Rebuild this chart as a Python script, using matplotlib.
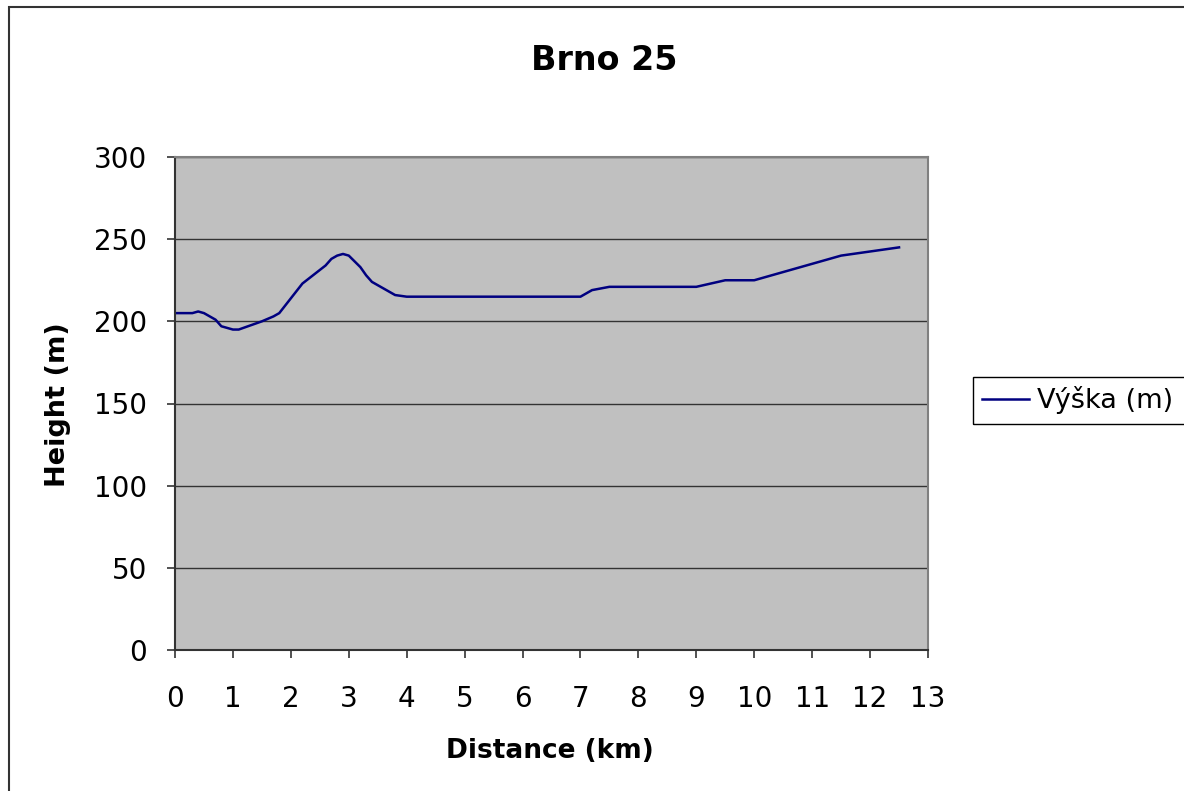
import matplotlib.pyplot as plt
import matplotlib.patches as patches

# distance (km) and height (m)
distance = [0, 0.3, 0.4, 0.5, 0.7, 0.8, 0.9, 1.0, 1.1, 1.5, 1.7, 1.8, 2.2, 2.6, 2.7,
            2.8, 2.9, 3.0, 3.2, 3.3, 3.4, 3.6, 3.8, 4.0, 4.5, 5.0, 5.5, 6.0, 6.5,
            7.0, 7.1, 7.2, 7.5, 8.0, 8.5, 9.0, 9.5, 10.0, 10.5, 11.0, 11.5, 12.0, 12.5]
height = [205, 205, 206, 205, 201, 197, 196, 195, 195, 200, 203, 205, 223, 234, 238,
          240, 241, 240, 233, 228, 224, 220, 216, 215, 215, 215, 215, 215, 215,
          215, 217, 219, 221, 221, 221, 221, 225, 225, 230, 235, 240, 242.5, 245]
series_name = 'Výška (m)'
title = 'Brno 25'
xticks = list(range(0, 14))
yticks = list(range(0, 301, 50))

plt.rcParams['font.family'] = ['DejaVu Sans']

fig = plt.figure(figsize=(11.84, 7.91), dpi=100)
W, H = 1184, 791

# outer chart border (left and top visible, rest runs off the image)
fig.patches.append(patches.Rectangle((9 / W, -0.1), 1.2, 1 - 7 / H + 0.1,
                                     transform=fig.transFigure, fill=False,
                                     edgecolor='#333333', linewidth=1.5))

ax = fig.add_axes([175 / W, (H - 650) / H, 753 / W, 493 / H])
ax.set_facecolor('#C0C0C0')
ax.plot(distance, height, color='#000080', linewidth=1.8, label=series_name)

ax.set_xlim(0, 13)
ax.set_ylim(0, 300)
ax.set_xticks(xticks)
ax.set_yticks(yticks)
ax.yaxis.grid(True, color='#333333', linewidth=1)
ax.set_axisbelow(True)
ax.tick_params(direction='out', length=6, width=1.2, color='#333333',
               labelsize=20)
ax.tick_params(axis='x', pad=19)
ax.tick_params(axis='y', pad=14)

for side in ['top', 'right']:
    ax.spines[side].set_color('#808080')
    ax.spines[side].set_linewidth(1.5)
for side in ['left', 'bottom']:
    ax.spines[side].set_color('#333333')
    ax.spines[side].set_linewidth(1.5)

fig.text(550 / W, 1 - 751 / H, 'Distance (km)', ha='center', va='center',
         fontsize=19, fontweight='bold')
fig.text(58 / W, 1 - 405 / H, 'Height (m)', ha='center', va='center',
         rotation=90, fontsize=19.5, fontweight='bold')
fig.text(604 / W, 1 - 60 / H, title, ha='center', va='center',
         fontsize=24, fontweight='bold')

# legend box runs off the right edge like in the original
fig.patches.append(patches.Rectangle((973 / W, 1 - 424 / H), 0.2, 47 / H,
                                     transform=fig.transFigure, fill=False,
                                     edgecolor='black', linewidth=1))
fig.legend(loc='center left', bbox_to_anchor=(973 / W, 1 - 400 / H),
           fontsize=19.5, frameon=False, handlelength=1.7,
           borderpad=0.35, handletextpad=0.3, borderaxespad=0)

fig.savefig('out.png', dpi=100)
